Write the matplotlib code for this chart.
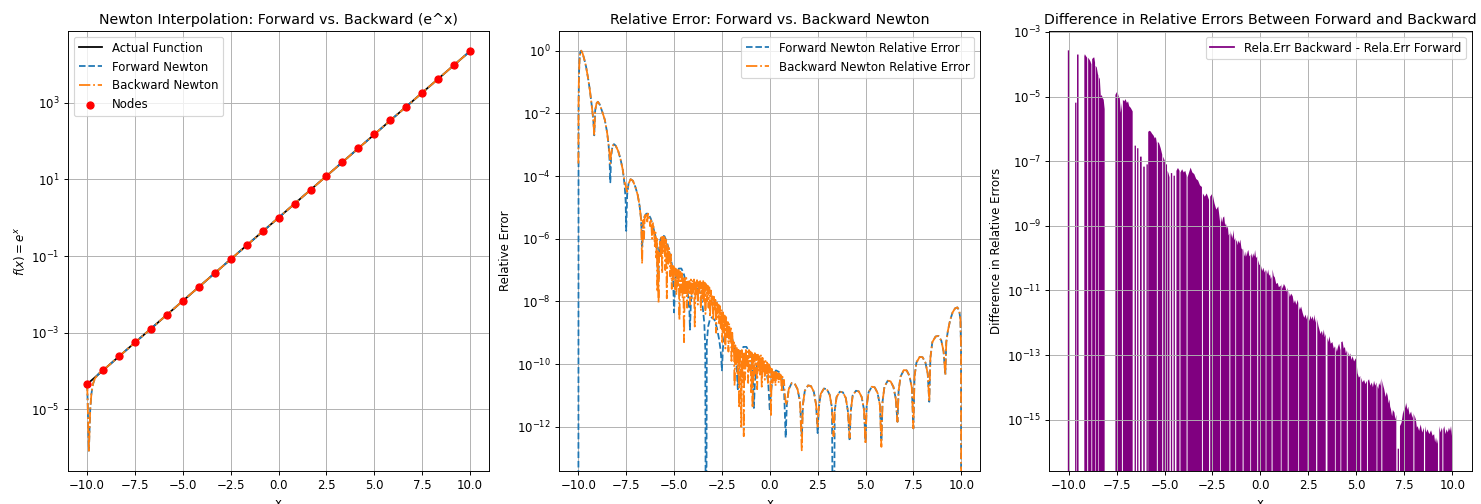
import numpy as np
import matplotlib
matplotlib.use("Agg")
import matplotlib.pyplot as plt
from matplotlib.lines import Line2D
from matplotlib.ticker import FixedLocator, NullLocator

# ---------------- panel 1: e^x, nodes and Newton interpolants ----------------
node_x = [-10.0, -9.167, -8.333, -7.5, -6.667, -5.833, -5.0, -4.167, -3.333,
          -2.5, -1.667, -0.833, 0.0, 0.833, 1.667, 2.5, 3.333, 4.167, 5.0,
          5.833, 6.667, 7.5, 8.333, 9.167, 10.0]
node_y = [4.54e-5, 1.04e-4, 2.40e-4, 5.53e-4, 1.27e-3, 2.93e-3, 6.74e-3,
          1.55e-2, 3.57e-2, 8.21e-2, 0.189, 0.435, 1.0, 2.30, 5.30, 12.2,
          28.0, 64.5, 148.0, 342.0, 786.0, 1810.0, 4160.0, 9590.0, 22000.0]
# interpolant: dips near x=-10, otherwise on top of the nodes
newton_x = [-10.0, -9.97, -9.94, -9.91, -9.88, -9.84, -9.78, -9.7, -9.6, -9.4] + node_x[1:]
newton_y = [4.5e-5, 1.3e-5, 2.5e-6, 8.3e-7, 2.5e-6, 1.0e-5, 2.5e-5, 4.5e-5,
            6.3e-5, 8.5e-5] + node_y[1:]

# ---------------- panel 2: relative errors (log10 values) ----------------
fwd_head_x = [
    -10.0, -9.99, -9.97, -9.94, -9.9, -9.85, -9.78, -9.7, -9.6, -9.5, -9.4, -9.3, -9.22, -9.17,
    -9.12, -9.05, -8.98, -8.88, -8.75, -8.62, -8.5, -8.42, -8.37, -8.33,
    -8.29, -8.22, -8.14, -8.05, -7.92, -7.8, -7.68, -7.58, -7.53, -7.5,
    -7.45, -7.38, -7.27, -7.15, -7.02, -6.9, -6.8, -6.72, -6.67,
    -6.62, -6.55, -6.45, -6.35, -6.22, -6.1, -5.98, -5.9, -5.83,
    -5.78, -5.7, -5.6, -5.5, -5.38, -5.25, -5.12, -5.05, -5.0,
    -4.95, -4.88, -4.75, -4.62, -4.5, -4.38, -4.27, -4.2, -4.17,
    -4.12, -4.05, -3.95, -3.85, -3.72, -3.6, -3.5, -3.42, -3.37, -3.33,
    -3.29, -3.22, -3.12, -3.0, -2.88, -2.76, -2.65, -2.56, -2.5,
    -2.45, -2.38, -2.25, -2.1, -1.98, -1.85, -1.75, -1.67,
    -1.62, -1.52, -1.38, -1.22, -1.08, -0.95, -0.88, -0.83,
    -0.78, -0.68, -0.52, -0.36, -0.2, -0.08, 0.0,
    0.06, 0.16, 0.32, 0.48, 0.62, 0.75, 0.83,
]
fwd_head_log = [
    -20, -2.0, -0.8, -0.3, -0.05, 0.0, -0.08, -0.25, -0.5, -0.85, -1.25, -1.75, -2.2, -2.7,
    -1.9, -1.68, -1.63, -1.72, -1.95, -2.2, -2.6, -3.0, -3.5, -4.2,
    -3.4, -3.05, -2.98, -3.03, -3.2, -3.45, -3.8, -4.3, -4.8, -5.75,
    -4.6, -4.25, -4.1, -4.15, -4.35, -4.6, -4.95, -5.4, -6.3,
    -5.6, -5.3, -5.2, -5.2, -5.35, -5.6, -5.9, -6.3, -7.5,
    -6.3, -6.0, -5.9, -5.92, -6.1, -6.4, -6.8, -7.3, -8.35,
    -7.5, -7.1, -6.95, -6.95, -7.1, -7.4, -7.8, -8.3, -8.9,
    -8.0, -7.7, -7.55, -7.53, -7.6, -7.8, -8.2, -8.7, -9.5, -20,
    -9.3, -8.8, -8.55, -8.5, -8.6, -8.85, -9.2, -9.6, -10.2,
    -9.5, -9.15, -9.0, -9.0, -9.15, -9.45, -9.9, -10.8,
    -10.1, -9.6, -9.45, -9.45, -9.6, -9.95, -10.5, -11.4,
    -10.6, -10.05, -9.9, -9.95, -10.15, -10.6, -11.5,
    -10.9, -10.4, -10.2, -10.25, -10.45, -10.9, -12.35,
]

bwd_head_x = [
    -10.0, -9.99, -9.97, -9.94, -9.9, -9.85, -9.78, -9.7, -9.6, -9.5, -9.4, -9.3, -9.22, -9.17,
    -9.12, -9.05, -8.98, -8.88, -8.75, -8.62, -8.5, -8.42, -8.37, -8.33,
    -8.29, -8.22, -8.14, -8.05, -7.92, -7.8, -7.68, -7.58, -7.53, -7.5,
    -7.45, -7.38, -7.27, -7.15, -7.02, -6.9, -6.8, -6.72, -6.67,
    -6.63, -6.6, -6.57, -6.53, -6.48, -6.45, -6.4, -6.36, -6.3, -6.25, -6.2,
    -6.15, -6.1, -6.05, -6.0, -5.97, -5.93, -5.9, -5.87, -5.84, -5.81, -5.78,
    -5.74, -5.7, -5.66, -5.62, -5.58, -5.54, -5.5, -5.46, -5.42, -5.38,
    -5.34, -5.3, -5.26, -5.2, -5.16, -5.12, -5.08, -5.04, -5.0,
    -4.96, -4.92, -4.88, -4.84, -4.8, -4.76, -4.72, -4.68, -4.64, -4.6, -4.56,
    -4.52, -4.48, -4.44, -4.4, -4.36, -4.32, -4.28, -4.24, -4.2, -4.16,
    -4.12, -4.08, -4.04, -4.0, -3.96, -3.92, -3.88, -3.84, -3.8, -3.76, -3.72,
    -3.68, -3.64, -3.6, -3.56, -3.52, -3.48, -3.44, -3.4, -3.36, -3.32,
    -3.28, -3.24, -3.2, -3.16, -3.12, -3.08, -3.04, -3.0, -2.96, -2.92,
    -2.88, -2.84, -2.8, -2.76, -2.72, -2.68, -2.64, -2.6, -2.56, -2.52,
    -2.48, -2.44, -2.4, -2.36, -2.32, -2.28, -2.24, -2.2, -2.16, -2.12, -2.08,
    -2.04, -2.0, -1.96, -1.92, -1.88, -1.84, -1.8, -1.76, -1.72, -1.68,
    -1.64, -1.6, -1.56, -1.52, -1.49, -1.46, -1.42, -1.39, -1.36, -1.33, -1.29,
    -1.25, -1.21, -1.17, -1.13, -1.09, -1.05, -1.01, -0.97, -0.93, -0.9, -0.86,
    -0.82, -0.78, -0.74, -0.7, -0.66, -0.62, -0.58, -0.54, -0.5, -0.46, -0.42, -0.38,
    -0.34, -0.3, -0.26, -0.22, -0.18, -0.14, -0.1, -0.06, -0.02, 0.02, 0.06,
    0.1, 0.14, 0.18, 0.22, 0.26, 0.3, 0.34, 0.38, 0.42, 0.46,
    0.5, 0.54, 0.58, 0.62, 0.66, 0.7, 0.74, 0.78, 0.83,
]
bwd_head_log = [
    -3.6, -1.8, -0.8, -0.3, -0.05, 0.0, -0.08, -0.25, -0.5, -0.85, -1.25, -1.75, -2.2, -2.7,
    -1.9, -1.68, -1.63, -1.72, -1.95, -2.2, -2.6, -3.0, -3.3, -3.6,
    -3.3, -3.05, -2.98, -3.03, -3.2, -3.45, -3.8, -4.2, -4.3, -4.4,
    -4.5, -4.25, -4.1, -4.15, -4.35, -4.6, -4.95, -5.4, -6.8,
    -5.7, -5.4, -6.0, -5.25, -5.3, -5.2, -5.45, -5.2, -5.3, -5.6, -5.35,
    -6.0, -5.5, -5.7, -6.3, -5.8, -6.6, -6.0, -7.7, -6.4, -8.05, -6.5,
    -6.1, -6.6, -5.95, -7.1, -5.9, -6.4, -5.95, -7.0, -6.0, -7.9,
    -6.2, -6.8, -6.3, -7.2, -6.5, -7.6, -6.8, -7.3, -6.9,
    -7.6, -6.95, -7.8, -7.0, -7.5, -6.95, -8.6, -7.05, -7.7, -7.1, -7.9,
    -7.2, -9.3, -7.2, -7.8, -7.25, -8.2, -7.3, -7.7, -7.35, -8.1,
    -7.3, -7.9, -7.32, -7.7, -7.3, -8.8, -7.35, -7.8, -7.32, -8.1, -7.38,
    -7.7, -7.35, -8.3, -7.4, -7.9, -7.35, -8.0, -7.4, -8.4, -7.45,
    -8.0, -7.5, -8.2, -7.55, -8.5, -7.65, -8.1, -7.8, -8.6, -7.85,
    -8.3, -7.95, -9.0, -8.0, -8.5, -8.1, -8.7, -8.15, -8.9, -8.25,
    -9.3, -8.35, -9.0, -8.45, -9.5, -8.5, -9.2, -8.6, -9.6, -8.7, -9.3,
    -8.8, -9.9, -9.0, -9.6, -9.3, -10.7, -9.4, -10.0, -9.45, -10.3,
    -9.5, -11.4, -9.55, -10.2, -12.0, -9.55, -10.4, -9.6, -12.3, -9.6, -10.5,
    -9.55, -10.1, -9.6, -10.6, -9.55, -10.2, -9.6, -10.9, -9.6, -11.4, -9.7,
    -10.5, -9.65, -10.3, -9.7, -10.8, -9.7, -10.2, -9.75, -10.4, -9.7, -10.72, -9.8,
    -10.3, -9.85, -10.5, -9.9, -10.3, -9.95, -10.6, -10.0, -10.4, -10.1, -11.68,
    -10.15, -10.6, -10.2, -10.5, -10.2, -10.7, -10.25, -10.5, -10.3, -10.6,
    -10.3, -10.55, -10.35, -10.9, -10.4, -10.6, -10.5, -10.9, -11.2,
]

tail_x = [
    0.89, 0.99, 1.15, 1.3, 1.45, 1.58, 1.67,
    1.73, 1.83, 2.0, 2.15, 2.3, 2.42, 2.5,
    2.56, 2.66, 2.83, 2.98, 3.13, 3.25, 3.33,
    3.39, 3.49, 3.66, 3.82, 3.97, 4.08, 4.17,
    4.23, 4.33, 4.5, 4.65, 4.8, 4.92, 5.0,
    5.06, 5.16, 5.33, 5.48, 5.63, 5.75, 5.83,
    5.89, 5.99, 6.16, 6.31, 6.46, 6.58, 6.67,
    6.73, 6.83, 7.0, 7.15, 7.3, 7.42, 7.5,
    7.56, 7.66, 7.83, 7.98, 8.13, 8.25, 8.33,
    8.39, 8.49, 8.66, 8.81, 8.96, 9.08, 9.17,
    9.22, 9.3, 9.42, 9.55, 9.68, 9.8, 9.9, 9.96, 9.99, 10.0,
]
tail_fwd_log = [
    -11.3, -10.8, -10.6, -10.62, -10.8, -11.2, -12.3,
    -11.3, -10.85, -10.68, -10.7, -10.88, -11.3, -12.2,
    -11.4, -10.95, -10.78, -10.8, -10.98, -11.4, -20,
    -11.5, -11.05, -10.88, -10.9, -11.08, -11.5, -12.45,
    -11.5, -11.0, -10.85, -10.87, -11.05, -11.45, -12.45,
    -11.35, -10.9, -10.72, -10.74, -10.92, -11.3, -12.45,
    -11.2, -10.72, -10.53, -10.55, -10.73, -11.1, -11.84,
    -10.85, -10.4, -10.19, -10.2, -10.38, -10.75, -12.05,
    -10.4, -9.95, -9.77, -9.78, -9.95, -10.3, -11.2,
    -9.8, -9.3, -9.12, -9.1, -9.25, -9.6, -10.35,
    -9.3, -8.95, -8.6, -8.35, -8.22, -8.19, -8.3, -8.6, -9.5, -20,
]
tail_bwd_log = [
    -11.3, -10.8, -10.6, -10.62, -10.8, -11.2, -12.75,
    -11.3, -10.85, -10.68, -10.7, -10.88, -11.3, -12.0,
    -11.4, -10.95, -10.78, -10.8, -10.98, -11.4, -12.3,
    -11.5, -11.05, -10.88, -10.9, -11.08, -11.5, -12.35,
    -11.5, -11.0, -10.85, -10.87, -11.05, -11.45, -12.55,
    -11.35, -10.9, -10.72, -10.74, -10.92, -11.3, -12.64,
    -11.2, -10.72, -10.53, -10.55, -10.73, -11.1, -11.84,
    -10.85, -10.4, -10.19, -10.2, -10.38, -10.75, -12.05,
    -10.4, -9.95, -9.77, -9.78, -9.95, -10.3, -11.2,
    -9.8, -9.3, -9.12, -9.1, -9.25, -9.6, -10.35,
    -9.3, -8.95, -8.6, -8.35, -8.22, -8.19, -8.3, -8.6, -9.5, -20,
]

# ---------------- panel 3: difference of relative errors (log10, -20 = drops to zero) ----------------
diff_x = [
    -10.04, -10.04, -9.96, -9.96,
    -9.66, -9.66, -9.59, -9.59,
    -9.56, -9.56, -9.48, -9.48,
    -9.18, -9.18, -9.15, -9.09, -9.03, -9.03,
    -8.98, -8.98, -8.93, -8.87, -8.81, -8.81,
    -8.77, -8.77, -8.71, -8.66, -8.62, -8.62,
    -8.59, -8.59, -8.53, -8.47, -8.45, -8.45,
    -8.42, -8.42, -8.37, -8.32, -8.27, -8.22, -8.17, -8.12, -8.12,
    -7.56, -7.56, -7.5, -7.45, -7.39, -7.33, -7.28, -7.22, -7.22,
    -7.17, -7.17, -7.1, -7.03, -6.96, -6.9, -6.84, -6.76, -6.66, -6.66,
    -6.56, -6.56, -6.49, -6.49,
    -6.43, -6.43, -6.36, -6.36,
    -6.28, -6.28, -6.19, -6.19,
    -6.11, -6.11, -6.03, -6.03,
    -5.94, -5.94, -5.87, -5.87,
    -5.85, -5.85, -5.8, -5.72, -5.65, -5.58, -5.5, -5.45, -5.40, -5.40,
    -5.35, -5.35, -5.28, -5.2, -5.12, -5.12,
    -5.07, -5.07, -4.98, -4.98,
    -4.94, -4.94, -4.87, -4.87,
    -4.84, -4.84, -4.79, -4.74, -4.74,
    -4.67, -4.67, -4.60, -4.60,
    -4.53, -4.53, -4.46, -4.46,
    -4.38, -4.38, -4.3, -4.22, -4.22,
    -4.17, -4.17, -4.08, -4.0, -3.92, -3.85, -3.85,
    -3.80, -3.80, -3.72, -3.64, -3.55, -3.45, -3.35, -3.25, -3.15, -3.05, -3.05,
    -3.0, -3.0, -2.9, -2.8, -2.68, -2.68,
    -2.62, -2.62, -2.5, -2.4, -2.3, -2.2, -2.1, -2.1,
    -2.06, -2.06, -2.0, -1.95, -1.89, -1.84, -1.8, -1.75, -1.7, -1.66, -1.62, -1.62,
    -1.57, -1.57, -1.53, -1.5, -1.45, -1.41, -1.36, -1.31, -1.31,
    -1.27, -1.27, -1.23, -1.19, -1.15, -1.1, -1.05, -0.99, -0.93, -0.93,
    -0.88, -0.88, -0.84, -0.8, -0.76, -0.72, -0.67, -0.63, -0.58, -0.53, -0.53,
    -0.49, -0.49, -0.45, -0.4, -0.36, -0.32, -0.28, -0.23, -0.17, -0.17,
    -0.12, -0.12, -0.06, 0.03, 0.09, 0.15, 0.22, 0.27, 0.27,
    0.31, 0.31, 0.36, 0.4, 0.45, 0.5, 0.54, 0.58, 0.58,
    0.63, 0.63, 0.69, 0.75, 0.82, 0.9, 0.96, 1.06, 1.06,
    1.1, 1.1, 1.15, 1.22, 1.3, 1.36, 1.42, 1.42,
    1.47, 1.47, 1.53, 1.6, 1.68, 1.74, 1.8, 1.87, 1.94, 1.97, 1.97,
    2.01, 2.01, 2.05, 2.12, 2.2, 2.28, 2.35, 2.41, 2.46, 2.46,
    2.5, 2.5, 2.56, 2.6, 2.66, 2.72, 2.77, 2.81, 2.86, 2.9, 2.9,
    2.96, 2.96, 3.02, 3.07, 3.13, 3.2, 3.25, 3.3, 3.35, 3.40, 3.40,
    3.49, 3.49, 3.54, 3.59, 3.66, 3.75, 3.82, 3.88, 3.88,
    3.92, 3.92, 3.98, 4.04, 4.1, 4.17, 4.17,
    4.21, 4.21, 4.28, 4.34, 4.4, 4.45, 4.5, 4.5,
    4.55, 4.55, 4.62, 4.68, 4.74, 4.8, 4.88, 4.97, 5.02, 5.06, 5.13, 5.2, 5.2,
    5.25, 5.25, 5.32, 5.4, 5.47, 5.55, 5.55,
    5.6, 5.6, 5.66, 5.73, 5.8, 5.86, 5.92, 5.98, 6.05, 6.05,
    6.09, 6.09, 6.14, 6.18, 6.24, 6.3, 6.3,
    6.35, 6.35, 6.4, 6.45, 6.52, 6.58, 6.63, 6.68, 6.72, 6.76, 6.8, 6.86, 6.9, 6.98, 7.03, 7.08, 7.08,
    7.15, 7.15, 7.22, 7.22,
    7.27, 7.27, 7.35, 7.45, 7.5, 7.53, 7.57, 7.6, 7.65, 7.7, 7.77, 7.85, 7.92, 7.97, 7.97,
    8.02, 8.02, 8.1, 8.15, 8.19, 8.27, 8.35, 8.43, 8.52, 8.52,
    8.58, 8.58, 8.64, 8.7, 8.8, 8.89, 8.97, 9.05, 9.1, 9.15, 9.2, 9.25, 9.25,
    9.32, 9.32, 9.38, 9.45, 9.48, 9.48,
    9.53, 9.53, 9.58, 9.64, 9.7, 9.76, 9.82, 9.88, 9.93, 9.98, 10.0, 10.0,
]
diff_log = [
    -20, -3.57, -3.57, -20,
    -20, -5.19, -5.19, -20,
    -20, -3.7, -3.7, -20,
    -20, -3.75, -3.69, -3.75, -3.8, -20,
    -20, -3.8, -3.84, -3.9, -4.0, -20,
    -20, -3.84, -3.8, -3.79, -3.95, -20,
    -20, -4.05, -4.1, -4.31, -4.35, -20,
    -20, -4.4, -4.46, -5.0, -4.95, -5.05, -5.1, -5.39, -20,
    -20, -4.95, -4.88, -4.85, -5.0, -5.05, -5.5, -5.2, -20,
    -20, -5.1, -5.15, -5.08, -5.2, -5.15, -5.3, -5.35, -5.46, -20,
    -20, -6.52, -6.52, -20,
    -20, -6.6, -6.6, -20,
    -20, -6.86, -6.86, -20,
    -20, -7.17, -7.17, -20,
    -20, -7.1, -7.1, -20,
    -20, -6.1, -6.06, -6.08, -6.15, -6.2, -6.3, -6.25, -6.45, -20,
    -20, -6.4, -6.45, -6.6, -6.8, -20,
    -20, -6.86, -7.0, -20,
    -20, -7.1, -7.1, -20,
    -20, -7.3, -7.38, -7.5, -20,
    -20, -7.37, -7.37, -20,
    -20, -7.45, -7.45, -20,
    -20, -7.3, -7.21, -7.3, -20,
    -20, -7.35, -7.25, -7.35, -7.3, -7.45, -20,
    -20, -7.5, -7.35, -7.2, -7.35, -7.4, -7.55, -7.6, -7.75, -7.8, -20,
    -20, -8.0, -8.1, -8.0, -8.2, -20,
    -20, -8.1, -8.0, -8.3, -8.5, -8.4, -8.9, -20,
    -20, -8.71, -8.9, -8.75, -8.71, -9.0, -8.92, -9.1, -9.0, -9.3, -9.24, -20,
    -20, -9.15, -9.35, -9.23, -9.4, -9.13, -9.45, -9.38, -20,
    -20, -9.5, -9.44, -9.6, -9.45, -9.55, -9.43, -9.7, -9.74, -20,
    -20, -9.7, -9.9, -9.96, -9.8, -9.95, -9.8, -9.75, -9.95, -9.9, -20,
    -20, -9.95, -9.85, -10.0, -9.85, -9.95, -9.75, -10.0, -9.95, -20,
    -20, -10.06, -10.2, -10.25, -10.4, -10.3, -10.45, -10.36, -20,
    -20, -10.36, -10.5, -10.35, -10.55, -10.5, -10.65, -10.57, -20,
    -20, -10.35, -10.55, -10.6, -10.8, -10.77, -10.9, -10.85, -20,
    -20, -10.8, -10.95, -10.8, -10.89, -11.05, -10.92, -20,
    -20, -11.0, -11.2, -11.1, -11.18, -11.4, -11.3, -11.45, -11.29, -11.4, -20,
    -20, -11.5, -11.6, -11.5, -11.7, -11.85, -11.75, -11.9, -11.75, -20,
    -20, -11.8, -11.95, -11.78, -11.9, -11.8, -11.95, -11.75, -12.0, -11.85, -20,
    -20, -11.9, -12.1, -12.21, -12.35, -12.25, -12.4, -12.21, -12.45, -12.35, -20,
    -20, -12.45, -12.6, -12.42, -12.65, -12.6, -12.8, -12.73, -20,
    -20, -12.73, -12.9, -12.75, -12.65, -12.85, -20,
    -20, -12.6, -12.58, -12.8, -12.75, -12.95, -12.85, -20,
    -20, -12.88, -13.05, -12.95, -13.15, -13.04, -13.2, -13.1, -13.3, -13.56, -13.7, -13.65, -20,
    -20, -13.7, -13.85, -13.77, -13.9, -13.8, -20,
    -20, -13.8, -13.75, -13.95, -13.85, -14.0, -13.8, -13.95, -13.85, -20,
    -20, -13.95, -14.05, -13.87, -13.95, -13.72, -20,
    -20, -13.8, -13.95, -14.06, -14.3, -14.15, -14.27, -14.5, -14.37, -14.6, -14.68, -14.9, -14.7, -14.78, -15.0, -14.85, -20,
    -20, -15.9, -15.9, -20,
    -20, -15.2, -15.1, -14.7, -14.9, -14.5, -14.65, -14.47, -14.7, -14.6, -14.85, -14.75, -14.95, -14.8, -20,
    -20, -14.85, -15.0, -15.25, -15.2, -15.35, -15.15, -15.4, -15.25, -20,
    -20, -15.2, -15.4, -15.3, -15.45, -15.33, -15.5, -15.45, -15.7, -15.55, -15.75, -15.6, -20,
    -20, -15.2, -15.4, -15.25, -15.35, -20,
    -20, -15.3, -15.2, -15.45, -15.3, -15.4, -15.25, -15.35, -15.2, -15.5, -15.7, -20,
]

x_ticks = [-10, -7.5, -5, -2.5, 0, 2.5, 5, 7.5, 10]


def log_axis(ax, lo, hi, ticks):
    ax.set_yscale("log")
    ax.set_ylim(10.0 ** lo, 10.0 ** hi)
    ax.yaxis.set_major_locator(FixedLocator([10.0 ** t for t in ticks]))
    ax.yaxis.set_minor_locator(NullLocator())
    ax.set_xlim(-11, 11)
    ax.set_xticks(x_ticks)
    ax.grid(True)
    ax.set_xlabel("x")


fig = plt.figure(figsize=(17.43, 5.93), dpi=85)
h = 440 / 504
b = 33 / 504
ax1 = fig.add_axes([68 / 1481, b, 421 / 1481, h])
ax2 = fig.add_axes([559 / 1481, b, 421 / 1481, h])
ax3 = fig.add_axes([1049 / 1481, b, 422 / 1481, h])

# panel 1
ax1.plot(node_x, node_y, color="black", label="Actual Function")
ax1.plot(newton_x, newton_y, "--", color="C0", label="Forward Newton")
ax1.plot(newton_x, newton_y, "-.", color="C1", label="Backward Newton")
ax1.scatter(node_x, node_y, color="red", zorder=5, label="Nodes")
log_axis(ax1, -6.61, 4.87, [-5, -3, -1, 1, 3])
ax1.set_ylabel(r"$f(x) = e^x$")
ax1.set_title("Newton Interpolation: Forward vs. Backward (e^x)")
ax1.legend(loc="upper left")

# panel 2
fwd_x = np.array(fwd_head_x + tail_x)
fwd_y = 10.0 ** np.array(fwd_head_log + tail_fwd_log)
bwd_x = np.array(bwd_head_x + tail_x)
bwd_y = 10.0 ** np.array(bwd_head_log + tail_bwd_log)
ax2.plot(fwd_x, fwd_y, "--", color="C0", label="Forward Newton Relative Error")
ax2.plot(bwd_x, bwd_y, "-.", color="C1", label="Backward Newton Relative Error")
log_axis(ax2, -13.41, 0.63, [0, -2, -4, -6, -8, -10, -12])
ax2.set_ylabel("Relative Error")
ax2.set_title("Relative Error: Forward vs. Backward Newton")
ax2.legend(loc="upper right")

# panel 3
dx = np.array(diff_x)
dy = 10.0 ** np.array(diff_log, dtype=float)
ax3.fill_between(dx, dy, 1e-20, color="purple", linewidth=0)
log_axis(ax3, -16.59, -2.97, [-3, -5, -7, -9, -11, -13, -15])
ax3.set_ylabel("Difference in Relative Errors")
ax3.set_title("Difference in Relative Errors Between Forward and Backward")
ax3.legend(handles=[Line2D([0], [0], color="purple", lw=1.5,
                           label="Rela.Err Backward - Rela.Err Forward")],
           loc="upper right")

fig.savefig("out.png", dpi=85)
